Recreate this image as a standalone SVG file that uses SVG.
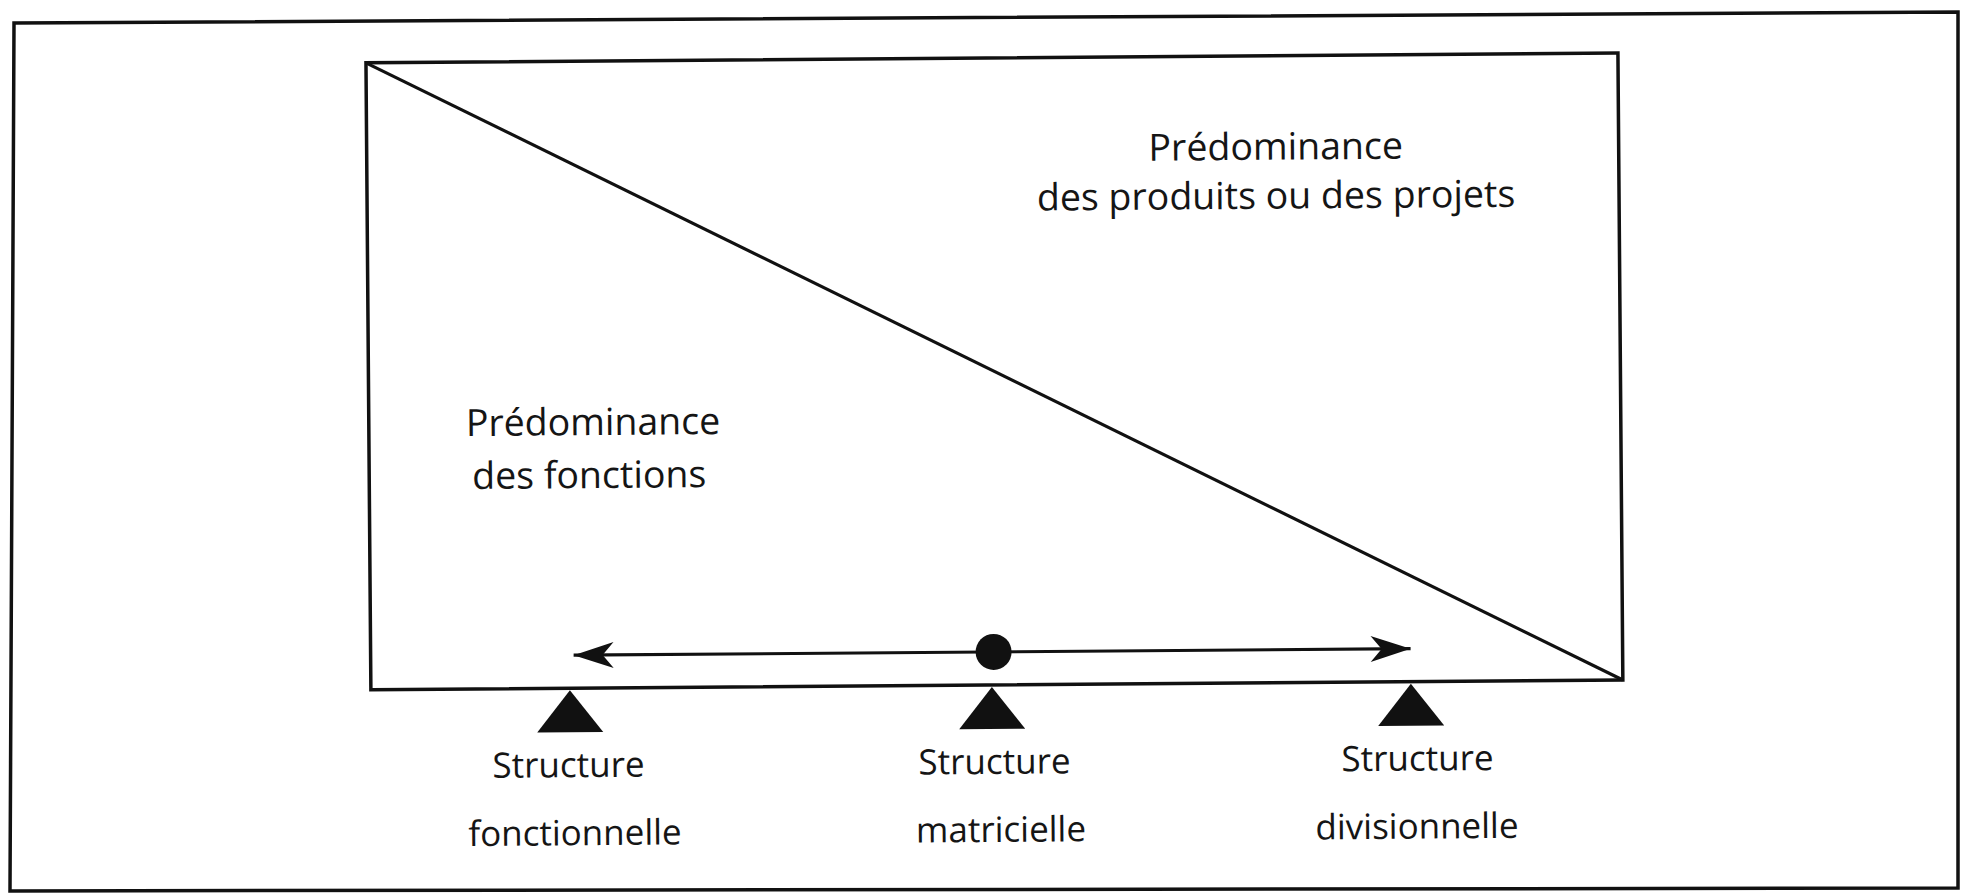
<svg xmlns="http://www.w3.org/2000/svg" width="1966" height="894" viewBox="0 0 1966 894">
  <style>
    .frame { fill: none; stroke: #111; stroke-width: 3.5; }
    .line { fill: none; stroke: #111; stroke-width: 3.2; }
    .solid { fill: #111; stroke: none; }
    .label { font-family: "Open Sans", "Noto Sans", sans-serif; font-size: 35px; fill: #151515; text-anchor: middle; }
    .big { font-size: 37.5px; }
    .left { text-anchor: start; }
  </style>
  <defs>
    <marker id="barb" markerUnits="userSpaceOnUse" markerWidth="44" markerHeight="30" viewBox="-42 -15 44 30" refX="0" refY="0" orient="auto-start-reverse">
      <path d="M0 0 L-40 -13 L-29 0 L-40 13 Z" fill="#111"/>
    </marker>
  </defs>
  <rect width="1966" height="894" fill="#ffffff"/>

  <!-- outer border -->
  <polygon id="border" class="frame" points="14,23 1958,12 1958,888 10,891"/>

  <g transform="rotate(-0.45 983 447)">
    <!-- balance box split by the diagonal -->
    <g id="box">
      <rect class="frame" x="369" y="58" width="1252" height="627"/>
      <line class="line" x1="369" y1="58" x2="1621" y2="685"/>
    </g>

    <g id="label-produits">
      <text class="label big" x="1278" y="162">Prédominance</text>
      <text class="label big" x="1278" y="211">des produits ou des projets</text>
    </g>
    <g id="label-fonctions">
      <text class="label big left" x="466" y="432">Prédominance</text>
      <text class="label big left" x="472" y="485">des fonctions</text>
    </g>

    <!-- double-headed scale arrow -->
    <g id="connectors">
      <line class="line" x1="572" y1="652" x2="1409" y2="652" marker-start="url(#barb)" marker-end="url(#barb)"/>
    </g>
    <circle id="pivot" class="solid" cx="992" cy="652" r="18"/>

    <!-- supports -->
    <g id="fonctionnelle">
      <polygon class="solid" points="568,687 535,729 601,729"/>
      <text class="label" x="566" y="774">Structure</text>
      <text class="label" x="572" y="842">fonctionnelle</text>
    </g>
    <g id="matricielle">
      <polygon class="solid" points="990,687 957,729 1023,729"/>
      <text class="label" x="992" y="774">Structure</text>
      <text class="label" x="998" y="842">matricielle</text>
    </g>
    <g id="divisionnelle">
      <polygon class="solid" points="1409,687 1376,729 1442,729"/>
      <text class="label" x="1415" y="774">Structure</text>
      <text class="label" x="1414" y="842">divisionnelle</text>
    </g>
  </g>
</svg>
